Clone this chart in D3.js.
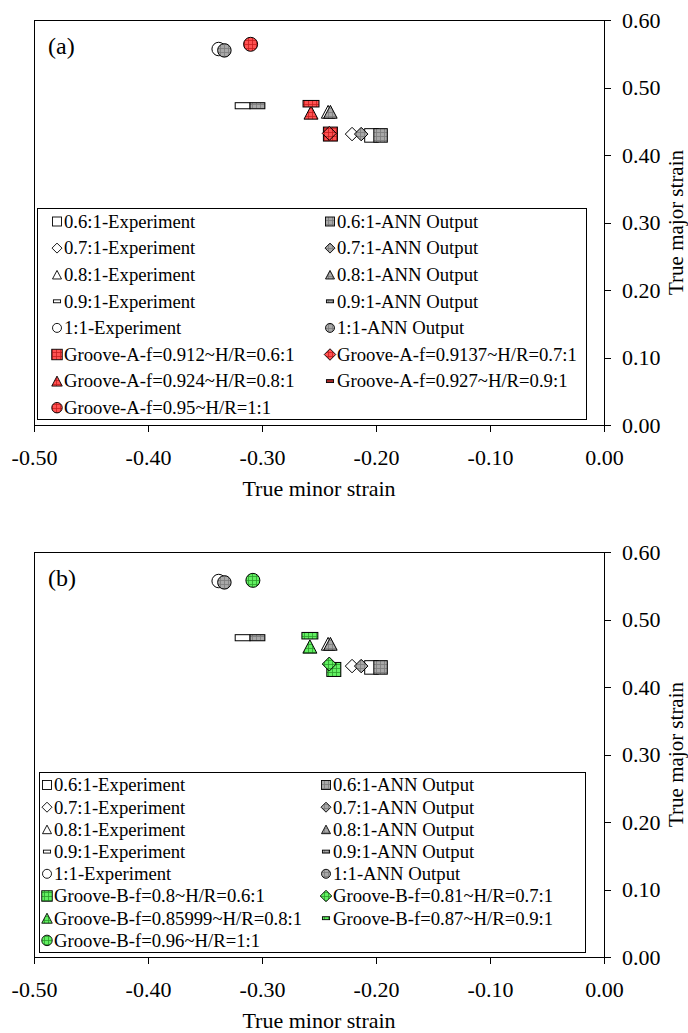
<!DOCTYPE html>
<html>
<head>
<meta charset="utf-8">
<script src="https://cdnjs.cloudflare.com/ajax/libs/d3/7.8.5/d3.min.js"></script>
<style>
  html, body { margin: 0; padding: 0; background: #fff; }
  svg { display: block; }
  text { font-family: "Liberation Serif", "Times New Roman", serif; fill: #000; }
</style>
</head>
<body>
<script>
// Strain ratio series (width : length of the specimen)
const ratios = ["0.6:1", "0.7:1", "0.8:1", "0.9:1", "1:1"];
const shapes = ["square", "diamond", "triangle", "dash", "circle"];

// Limit strains: experiment and ANN prediction (same in both panels)
const expMinor = [-0.204, -0.221, -0.242, -0.317, -0.338];
const expMajor = [0.429, 0.431, 0.464, 0.473, 0.557];
const annMinor = [-0.196, -0.213, -0.240, -0.304, -0.333];
const annMajor = [0.429, 0.431, 0.464, 0.473, 0.555];

// Groove model A
const grooveALabels = ["Groove-A-f=0.912~H/R=0.6:1", "Groove-A-f=0.9137~H/R=0.7:1",
  "Groove-A-f=0.924~H/R=0.8:1", "Groove-A-f=0.927~H/R=0.9:1", "Groove-A-f=0.95~H/R=1:1"];
const grooveAMinor = [-0.240, -0.241, -0.257, -0.257, -0.310];
const grooveAMajor = [0.431, 0.432, 0.463, 0.476, 0.564];

// Groove model B
const grooveBLabels = ["Groove-B-f=0.8~H/R=0.6:1", "Groove-B-f=0.81~H/R=0.7:1",
  "Groove-B-f=0.85999~H/R=0.8:1", "Groove-B-f=0.87~H/R=0.9:1", "Groove-B-f=0.96~H/R=1:1"];
const grooveBMinor = [-0.237, -0.241, -0.258, -0.258, -0.308];
const grooveBMajor = [0.426, 0.434, 0.460, 0.476, 0.558];

// Axes
const xTicks = [-0.5, -0.4, -0.3, -0.2, -0.1, 0.0];
const yTicks = [0.0, 0.1, 0.2, 0.3, 0.4, 0.5, 0.6];
const xTitle = "True minor strain";
const yTitle = "True major strain";

const W = 688, H = 1033;
const svg = d3.select("body").append("svg").attr("width", W).attr("height", H);
const defs = svg.append("defs");

// Hatched fills for model markers
function gridPattern(id, base, line) {
  const p = defs.append("pattern").attr("id", id)
    .attr("patternUnits", "userSpaceOnUse").attr("width", 4).attr("height", 4);
  p.append("rect").attr("width", 4).attr("height", 4).attr("fill", base);
  p.append("path").attr("d", "M0,0.5H4M0.5,0V4").attr("stroke", line).attr("stroke-width", 0.8);
}
gridPattern("gridGrey", "#a8a8a8", "#7c7c7c");
gridPattern("gridRed", "#ff5252", "#c81e1e");
gridPattern("gridGreen", "#62f062", "#2c9c2c");

function marker(g, shape, x, y, sz, fill) {
  const s = sz;
  let el;
  if (shape === "square") {
    el = g.append("rect").attr("x", x - s / 2).attr("y", y - s / 2).attr("width", s).attr("height", s);
  } else if (shape === "diamond") {
    const h = s / 2;
    el = g.append("path").attr("d", `M${x},${y - h}L${x + h},${y}L${x},${y + h}L${x - h},${y}Z`);
  } else if (shape === "triangle") {
    const h = s * 0.95;
    el = g.append("path").attr("d", `M${x},${y - h / 2}L${x + s / 2},${y + h / 2}L${x - s / 2},${y + h / 2}Z`);
  } else if (shape === "dash") {
    const w = s * 1.1, hh = s * 0.45;
    el = g.append("rect").attr("x", x - w / 2).attr("y", y - hh / 2).attr("width", w).attr("height", hh);
  } else {
    el = g.append("circle").attr("cx", x).attr("cy", y).attr("r", s / 2);
  }
  el.attr("fill", fill).attr("stroke", "#000").attr("stroke-width", 1);
  return el;
}

function panel(cfg) {
  const x = d3.scaleLinear().domain([-0.5, 0]).range([cfg.left, cfg.right]);
  const y = d3.scaleLinear().domain([0, 0.6]).range([cfg.bottom, cfg.top]);
  const g = svg.append("g");

  // frame
  g.append("rect").attr("x", cfg.left).attr("y", cfg.top)
    .attr("width", cfg.right - cfg.left).attr("height", cfg.bottom - cfg.top)
    .attr("fill", "none").attr("stroke", "#000").attr("stroke-width", 1)
    .attr("shape-rendering", "crispEdges");

  // bottom axis
  const xa = g.append("g").attr("transform", `translate(0,${cfg.bottom})`)
    .call(d3.axisBottom(x).tickValues(xTicks).tickSize(7).tickSizeOuter(0).tickPadding(17)
      .tickFormat(d => d.toFixed(2)));
  // right axis
  const ya = g.append("g").attr("transform", `translate(${cfg.right},0)`)
    .call(d3.axisRight(y).tickValues(yTicks).tickSize(7).tickSizeOuter(0).tickPadding(11)
      .tickFormat(d => d.toFixed(2)));
  [xa, ya].forEach(a => {
    a.select(".domain").attr("stroke", "#000").attr("shape-rendering", "crispEdges");
    a.selectAll(".tick line").attr("stroke", "#000").attr("shape-rendering", "crispEdges");
    a.selectAll("text").attr("font-size", 22).attr("font-family", "Liberation Serif, serif").attr("fill", "#000");
  });

  g.append("text").attr("x", (cfg.left + cfg.right) / 2).attr("y", cfg.bottom + 71)
    .attr("text-anchor", "middle").attr("font-size", 22).text(xTitle);
  g.append("text").attr("transform", `translate(${W - 5},${(cfg.top + cfg.bottom) / 2}) rotate(-90)`)
    .attr("text-anchor", "middle").attr("font-size", 21).text(yTitle);
  g.append("text").attr("x", cfg.left + 14).attr("y", cfg.top + 34)
    .attr("font-size", 24).text(cfg.tag);

  // markers: experiment, ANN, groove model
  const m = g.append("g");
  ratios.forEach((r, i) => marker(m, shapes[i], x(expMinor[i]), y(expMajor[i]), 13.5, "#fff"));
  ratios.forEach((r, i) => marker(m, shapes[i], x(annMinor[i]), y(annMajor[i]), 13.5, "url(#gridGrey)"));
  ratios.forEach((r, i) => marker(m, shapes[i], x(cfg.gMinor[i]), y(cfg.gMajor[i]), i === 3 ? 14.5 : 14, cfg.gFill));

  // legend
  const L = cfg.legend;
  g.append("rect").attr("x", L.x0).attr("y", L.y0).attr("width", L.x1 - L.x0).attr("height", L.y1 - L.y0)
    .attr("fill", "#fff").attr("stroke", "#000").attr("stroke-width", 1).attr("shape-rendering", "crispEdges");
  const items = [];
  ratios.forEach((r, i) => {
    items.push({ shape: shapes[i], fill: "#fff", label: r + "-Experiment", g: false });
    items.push({ shape: shapes[i], fill: "url(#gridGrey)", label: r + "-ANN Output", g: false });
  });
  cfg.gLabels.forEach((lab, i) => items.push({ shape: shapes[i], fill: i === 3 ? cfg.gDark : cfg.gFill, label: lab, g: true }));
  const lg = g.append("g");
  items.forEach((it, k) => {
    const col = k % 2, row = Math.floor(k / 2);
    const cy = L.rowY + row * L.rowStep;
    const sx = col === 0 ? L.symX0 : L.symX1;
    let sz = it.g ? 10.5 : 9;
    if (it.shape === "dash") sz = 6.5;
    if (it.shape === "diamond") sz += 1;
    marker(lg, it.shape, sx, cy, sz, it.fill).attr("stroke-width", 0.9);
    lg.append("text").attr("x", sx + 7).attr("y", cy).attr("dy", "0.34em")
      .attr("font-size", 18.7).text(it.label);
  });
}

panel({
  tag: "(a)", left: 34, right: 604, top: 20, bottom: 425,
  gMinor: grooveAMinor, gMajor: grooveAMajor, gLabels: grooveALabels,
  gFill: "url(#gridRed)", gDark: "#a82828",
  legend: { x0: 37, x1: 586, y0: 208, y1: 419, rowY: 221.5, rowStep: 26.6, symX0: 57, symX1: 330 }
});
panel({
  tag: "(b)", left: 34, right: 604, top: 552, bottom: 957,
  gMinor: grooveBMinor, gMajor: grooveBMajor, gLabels: grooveBLabels,
  gFill: "url(#gridGreen)", gDark: "url(#gridGreen)",
  legend: { x0: 39, x1: 585, y0: 772, y1: 952, rowY: 785, rowStep: 22.2, symX0: 47, symX1: 326 }
});
</script>
</body>
</html>
